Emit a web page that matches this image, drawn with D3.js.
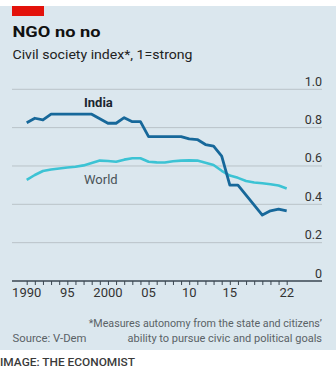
<!DOCTYPE html>
<html><head><meta charset="utf-8">
<script src="https://cdn.jsdelivr.net/npm/d3@7"></script>
<style>
html,body{margin:0;padding:0;background:#fff;}
svg{display:block;font-family:Roboto,"Noto Sans",sans-serif;}
</style></head>
<body>
<svg id="chart" width="336" height="379"></svg>
<script>
const years = d3.range(1990, 2023);
const india = [0.826,0.849,0.840,0.870,0.870,0.870,0.870,0.870,0.870,0.846,0.823,0.823,0.852,0.831,0.831,0.753,0.753,0.753,0.753,0.753,0.741,0.738,0.712,0.704,0.652,0.500,0.500,0.448,0.396,0.344,0.366,0.375,0.366];
const world = [0.527,0.553,0.574,0.582,0.587,0.592,0.596,0.603,0.615,0.628,0.626,0.622,0.633,0.640,0.640,0.622,0.619,0.618,0.625,0.628,0.629,0.628,0.617,0.605,0.575,0.550,0.538,0.522,0.514,0.510,0.505,0.498,0.483];
const yTicks = [0, 0.2, 0.4, 0.6, 0.8, 1.0];
const yTickLabels = ["0", "0.2", "0.4", "0.6", "0.8", "1.0"];
const xLabelYears = [1990, 1995, 2000, 2005, 2010, 2015, 2022];
const xLabels = ["1990", "95", "2000", "05", "10", "15", "22"];

const svg = d3.select("#chart");
svg.append("rect").attr("x",0).attr("y",6).attr("width",336).attr("height",344).attr("fill","#dbe7ee");
svg.append("rect").attr("x",12).attr("y",6).attr("width",32).attr("height",10).attr("fill","#e3120b");

svg.append("text").attr("x",12.5).attr("y",37).attr("font-size",15.5).attr("font-weight",700).attr("fill","#111")
  .attr("textLength",88).attr("lengthAdjust","spacingAndGlyphs").text("NGO no no");
svg.append("text").attr("x",12.5).attr("y",58.5).attr("font-size",13.5).attr("fill","#222")
  .attr("textLength",180).attr("lengthAdjust","spacingAndGlyphs").text("Civil society index*, 1=strong");

const x = d3.scaleLinear().domain([1990, 2022]).range([26.7, 286.7]);
const y = d3.scaleLinear().domain([0, 1]).range([281, 89.3]);
const left = 12, right = 322;

// gridlines
svg.append("g").selectAll("line").data(yTicks.filter(d=>d>0)).join("line")
  .attr("x1",left).attr("x2",right).attr("y1",d=>y(d)).attr("y2",d=>y(d))
  .attr("stroke","#b9c3c8").attr("stroke-width",1);
svg.append("g").selectAll("text").data(yTicks).join("text")
  .attr("x",right).attr("y",d=>y(d)-3.5).attr("text-anchor","end")
  .attr("font-size",12.5).attr("fill","#333")
  .text((d,i)=>yTickLabels[i]);

// x axis
const xAxis = d3.axisBottom(x).tickValues(years).tickSize(4).tickFormat("");
const gx = svg.append("g").attr("transform",`translate(0,${y(0)})`).call(xAxis);
gx.select(".domain").remove();
gx.selectAll(".tick line").attr("stroke","#3a4650").attr("stroke-width",1);
svg.append("line").attr("x1",left).attr("x2",right).attr("y1",y(0)).attr("y2",y(0)).attr("stroke","#3a4650").attr("stroke-width",1.3);
svg.append("g").selectAll("text").data(xLabelYears).join("text")
  .attr("x",d=>x(d)).attr("y",296.5).attr("text-anchor","middle")
  .attr("font-size",13).attr("fill","#333")
  .text((d,i)=>xLabels[i]);

const line = d3.line().x((d,i)=>x(years[i])).y(d=>y(d));
svg.append("path").datum(world).attr("d",line).attr("fill","none").attr("stroke","#3cc3d4").attr("stroke-width",2.6).attr("stroke-linejoin","round");
svg.append("path").datum(india).attr("d",line).attr("fill","none").attr("stroke","#17689a").attr("stroke-width",2.8).attr("stroke-linejoin","round");

svg.append("text").attr("x",84).attr("y",107.3).attr("font-size",13).attr("font-weight",700).attr("fill","#1a2630").text("India");
svg.append("text").attr("x",84).attr("y",183.5).attr("font-size",13).attr("fill","#4a5358").text("World");

svg.append("text").attr("x",right).attr("y",327).attr("text-anchor","end").attr("font-size",10.7).attr("fill","#5a6266")
  .text("*Measures autonomy from the state and citizens\u2019");
svg.append("text").attr("x",right).attr("y",342).attr("text-anchor","end").attr("font-size",11).attr("fill","#5a6266")
  .text("ability to pursue civic and political goals");
svg.append("text").attr("x",12.5).attr("y",342).attr("font-size",11.3).attr("fill","#5a6266")
  .text("Source: V-Dem");

svg.append("text").attr("x",0).attr("y",366).attr("font-size",11.5).attr("font-weight",500).attr("fill","#3a3a3a")
  .attr("textLength",135).attr("lengthAdjust","spacingAndGlyphs").text("IMAGE: THE ECONOMIST");
</script>
</body></html>
